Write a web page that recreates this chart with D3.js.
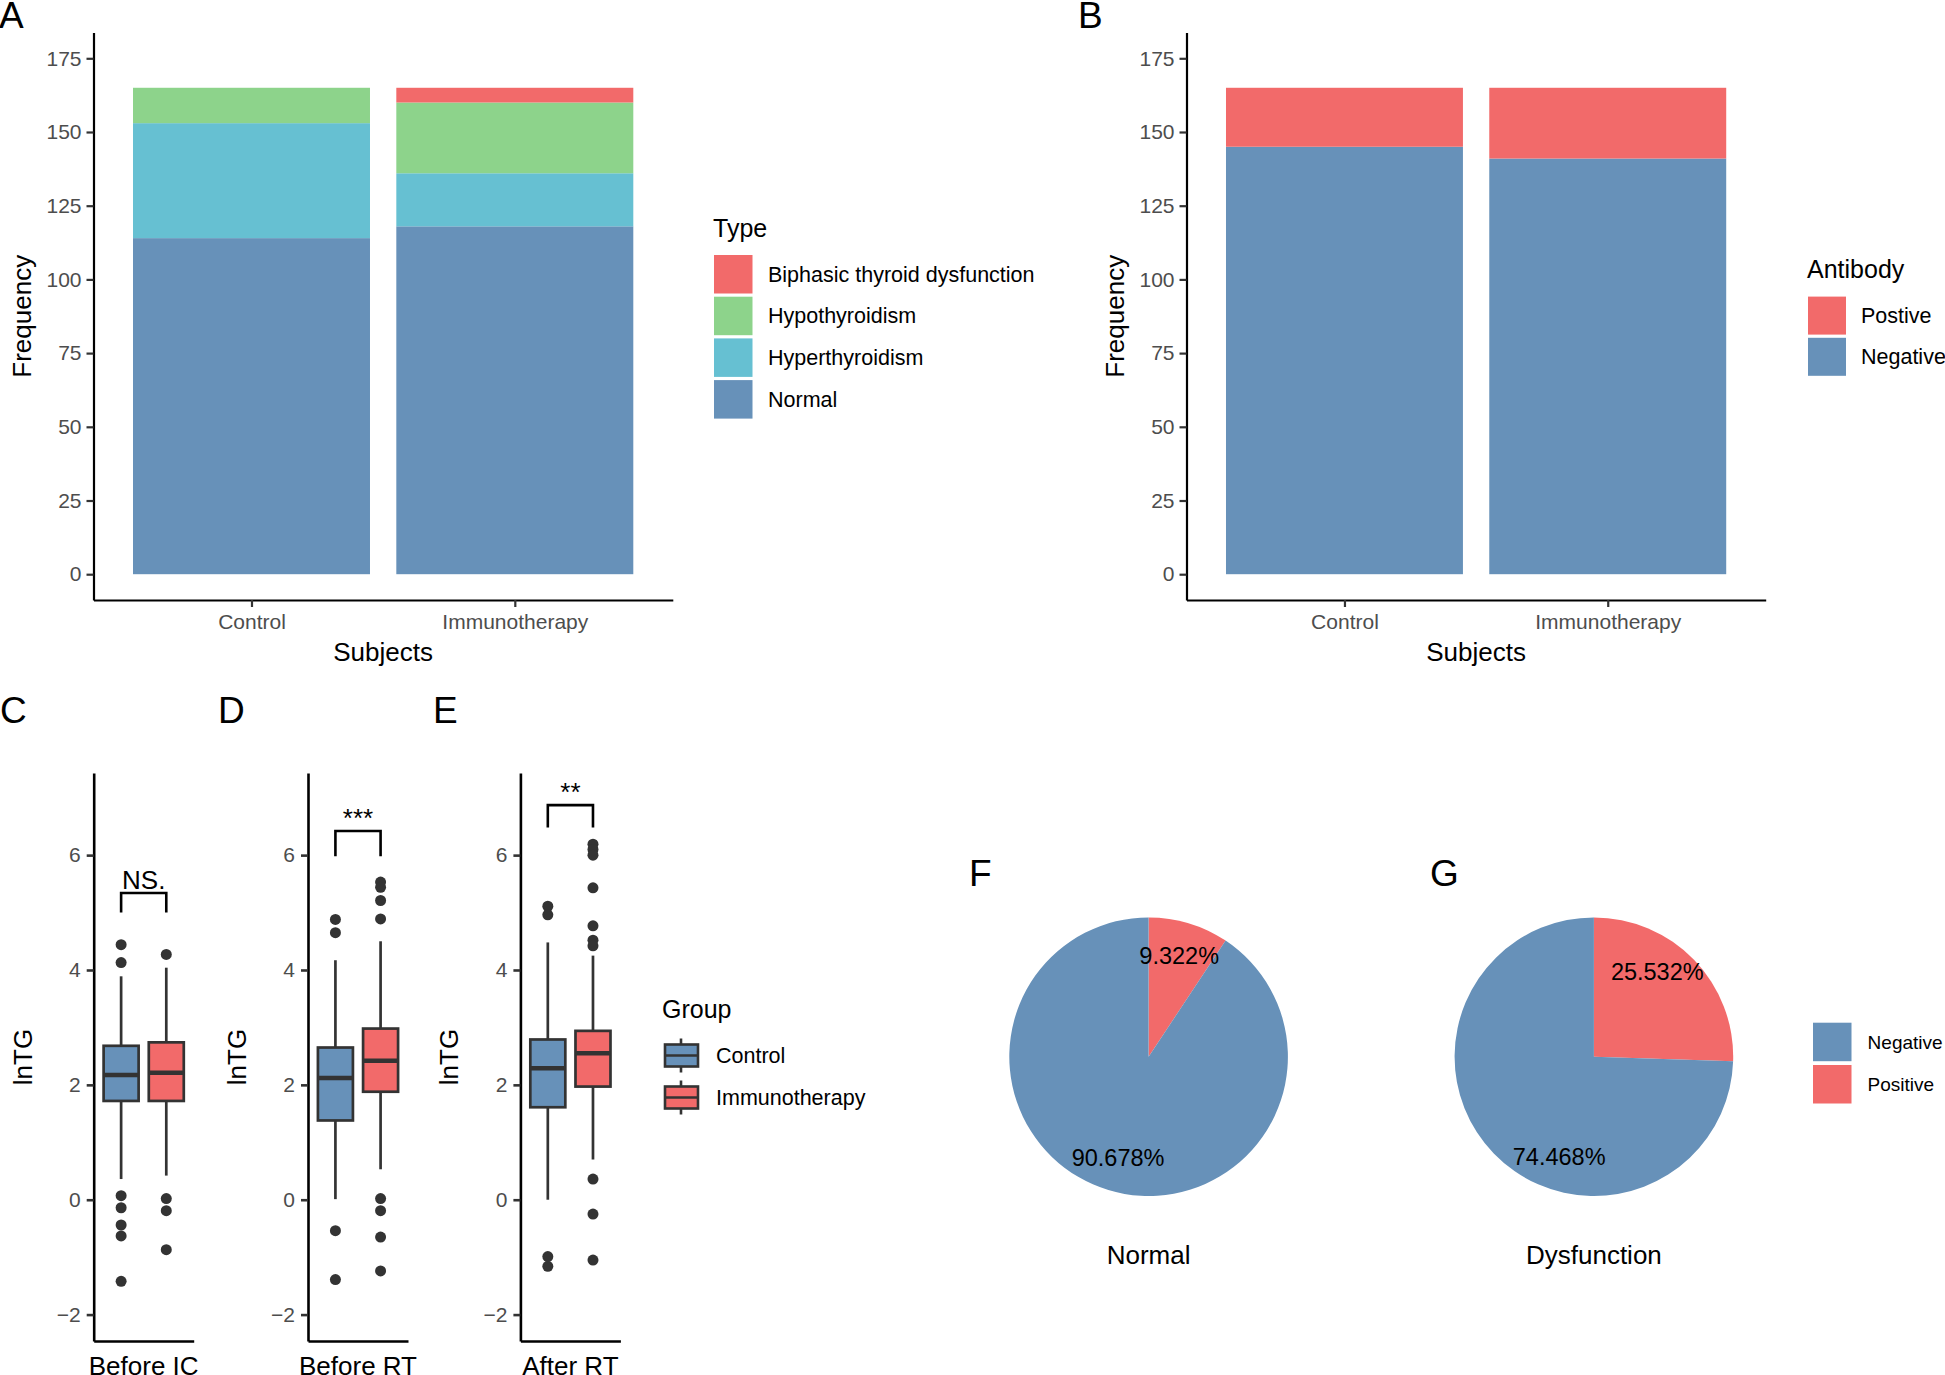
<!DOCTYPE html>
<html>
<head>
<meta charset="utf-8">
<script src="https://cdn.jsdelivr.net/npm/d3@7"></script>
<style>
  body { margin: 0; background: #fff; }
  svg { display: block; font-family: "Liberation Sans", Arial, Helvetica, sans-serif; }
</style>
</head>
<body>
<div id="chart"></div>
<script>
// ---- data ----
const subjects = ["Control", "Immunotherapy"];
const freqTicks = [0, 25, 50, 75, 100, 125, 150, 175];

// panel A, thyroid function type counts
const typeKeys = ["Normal", "Hyperthyroidism", "Hypothyroidism", "Biphasic thyroid dysfunction"];
const typeNormal = [114, 118];
const typeHyper = [39, 18];
const typeHypo = [12, 24];
const typeBiphasic = [0, 5];

// panel B, antibody counts
const antibodyKeys = ["Negative", "Postive"];
const antibodyNeg = [145, 141];
const antibodyPos = [20, 24];

// panels C-E, lnTG boxplots: [lower whisker, Q1, median, Q3, upper whisker]
const timepoints = ["Before IC", "Before RT", "After RT"];
const groups = ["Control", "Immunotherapy"];
const statsBeforeIC = [[0.36, 1.72, 2.17, 2.68, 3.89], [0.42, 1.72, 2.21, 2.74, 4.04]];
const statsBeforeRT = [[0.01, 1.38, 2.12, 2.65, 4.17], [0.53, 1.88, 2.42, 2.98, 4.50]];
const statsAfterRT  = [[0.0, 1.61, 2.29, 2.79, 4.48], [0.70, 1.97, 2.55, 2.94, 4.25]];
const outBeforeIC = [[4.44, 4.13, 0.07, -0.14, -0.44, -0.63, -1.42], [4.27, 0.02, -0.19, -0.87]];
const outBeforeRT = [[4.88, 4.65, -0.54, -1.39], [5.53, 5.44, 5.21, 4.89, 0.02, -0.19, -0.65, -1.24]];
const outAfterRT  = [[5.11, 4.96, -0.99, -1.16], [6.19, 6.10, 6.00, 5.43, 4.77, 4.52, 4.42, 0.36, -0.25, -1.05]];
const signifLabels = ["NS.", "***", "**"];
const bracketLow = [5.0, 5.98, 6.48];
const bracketHigh = [5.34, 6.42, 6.87];
const lnTicks = [-2, 0, 2, 4, 6];

// panels F-G, antibody in immunotherapy patients by thyroid status
const pieGroups = ["Normal", "Dysfunction"];
const pieNegative = [107, 35];
const piePositive = [11, 12];

// ---- styles ----
const RED = "#F26A6A", GREEN = "#8DD38B", CYAN = "#66C0D2", BLUE = "#6791B9";
const TICK_GREY = "#4D4D4D", DARK = "#333333";
const width = 1945, height = 1375;

const svg = d3.select("#chart").append("svg")
  .attr("width", width)
  .attr("height", height)
  .attr("viewBox", `0 0 ${width} ${height}`);

function styleAxis(g, lw) {
  g.select(".domain").attr("stroke", "#000").attr("stroke-width", lw);
  g.selectAll(".tick line").attr("stroke", DARK).attr("stroke-width", lw);
  g.selectAll(".tick text").attr("fill", TICK_GREY).attr("font-size", 21);
}

function panelLetter(txt, x, y) {
  svg.append("text").attr("x", x).attr("y", y).attr("font-size", 37).text(txt);
}

function drawLegend(o) {
  const g = svg.append("g");
  if (o.title) {
    g.append("text").attr("x", o.x).attr("y", o.titleY).attr("font-size", 25).text(o.title);
  }
  o.items.forEach((it, i) => {
    const top = o.keyTop + i * o.step;
    g.append("rect").attr("x", o.x + 1).attr("y", top)
      .attr("width", o.keySize).attr("height", o.keySize).attr("fill", o.colors[i]);
    g.append("text").attr("x", o.labelX).attr("y", top + o.keySize / 2)
      .attr("dy", "0.35em").attr("font-size", o.fontSize).text(it);
  });
}

// ---- stacked bar panels ----
function stackedBars(o) {
  const g = svg.append("g");
  const x = d3.scaleLinear().domain([0.4, 2.6]).range([o.left, o.right]);
  const y = d3.scaleLinear().domain([-8.75, 183.75]).range([600, 32.5]);
  const stack = d3.stack().keys(o.keys)(o.rows);
  stack.forEach((layer, li) => {
    g.append("g").selectAll("rect").data(layer).join("rect")
      .attr("x", (d, i) => x(i + 1 - 0.45))
      .attr("width", x(1.45) - x(0.55))
      .attr("y", d => y(d[1]))
      .attr("height", d => y(d[0]) - y(d[1]))
      .attr("fill", o.colors[li]);
  });
  const ya = g.append("g").attr("transform", `translate(${o.left},0)`)
    .call(d3.axisLeft(y).tickValues(freqTicks).tickSize(7).tickSizeOuter(0).tickPadding(5));
  styleAxis(ya, 2.2);
  const xa = g.append("g").attr("transform", `translate(0,600)`)
    .call(d3.axisBottom(x).tickValues([1, 2]).tickFormat((d, i) => subjects[i])
      .tickSize(7).tickSizeOuter(0).tickPadding(7));
  styleAxis(xa, 2.2);
  g.append("text").attr("transform", `translate(${o.left - 63},${(600 + 32.5) / 2}) rotate(-90)`)
    .attr("text-anchor", "middle").attr("font-size", 26).text("Frequency");
  g.append("text").attr("x", (o.left + o.right) / 2).attr("y", 661)
    .attr("text-anchor", "middle").attr("font-size", 26).text("Subjects");
}

stackedBars({
  left: 93.5, right: 672.8,
  keys: typeKeys,
  colors: [BLUE, CYAN, GREEN, RED],
  rows: subjects.map((s, i) => ({
    subject: s,
    "Normal": typeNormal[i],
    "Hyperthyroidism": typeHyper[i],
    "Hypothyroidism": typeHypo[i],
    "Biphasic thyroid dysfunction": typeBiphasic[i]
  }))
});
drawLegend({
  title: "Type", x: 713, titleY: 237, keyTop: 255, keySize: 38.5, step: 41.7,
  labelX: 768, fontSize: 21.5,
  items: typeKeys.slice().reverse(), colors: [RED, GREEN, CYAN, BLUE]
});
panelLetter("A", -1, 28);

stackedBars({
  left: 1186.5, right: 1765.7,
  keys: antibodyKeys,
  colors: [BLUE, RED],
  rows: subjects.map((s, i) => ({ subject: s, "Negative": antibodyNeg[i], "Postive": antibodyPos[i] }))
});
drawLegend({
  title: "Antibody", x: 1807, titleY: 277.5, keyTop: 296.6, keySize: 38, step: 41.2,
  labelX: 1861, fontSize: 21.5,
  items: antibodyKeys.slice().reverse(), colors: [RED, BLUE]
});
panelLetter("B", 1078, 28);

// ---- boxplot panels ----
const boxStats = [statsBeforeIC, statsBeforeRT, statsAfterRT];
const boxOut = [outBeforeIC, outBeforeRT, outAfterRT];
const boxLefts = [93.7, 308, 520.4];
const boxLetters = ["C", "D", "E"];
const boxLetterX = [0, 218, 433];
const yBox = d3.scaleLinear().domain([-2.46, 7.43]).range([1341, 773]);
const boxColors = [BLUE, RED];

timepoints.forEach((tp, p) => {
  const left = boxLefts[p], right = left + 100;
  const x = d3.scaleLinear().domain([0.4, 1.6]).range([left, right]);
  const g = svg.append("g");
  const offs = [-0.271, 0.271], bw = 0.42;

  groups.forEach((grp, k) => {
    const s = boxStats[p][k];
    const cx = x(1 + offs[k]);
    const gg = g.append("g");
    gg.append("line").attr("x1", cx).attr("x2", cx).attr("y1", yBox(s[0])).attr("y2", yBox(s[1]))
      .attr("stroke", DARK).attr("stroke-width", 2.7);
    gg.append("line").attr("x1", cx).attr("x2", cx).attr("y1", yBox(s[3])).attr("y2", yBox(s[4]))
      .attr("stroke", DARK).attr("stroke-width", 2.7);
    gg.append("rect")
      .attr("x", x(1 + offs[k] - bw / 2)).attr("width", x(1 + bw) - x(1))
      .attr("y", yBox(s[3])).attr("height", yBox(s[1]) - yBox(s[3]))
      .attr("fill", boxColors[k]).attr("stroke", DARK).attr("stroke-width", 2.7);
    gg.append("line")
      .attr("x1", x(1 + offs[k] - bw / 2)).attr("x2", x(1 + offs[k] + bw / 2))
      .attr("y1", yBox(s[2])).attr("y2", yBox(s[2]))
      .attr("stroke", DARK).attr("stroke-width", 4.5);
    gg.selectAll("circle").data(boxOut[p][k]).join("circle")
      .attr("cx", cx).attr("cy", d => yBox(d)).attr("r", 5.5).attr("fill", DARK);
  });

  // significance bracket
  const bx0 = x(1 + offs[0]), bx1 = x(1 + offs[1]);
  g.append("path")
    .attr("d", d3.line()([[bx0, yBox(bracketLow[p])], [bx0, yBox(bracketHigh[p])],
      [bx1, yBox(bracketHigh[p])], [bx1, yBox(bracketLow[p])]]))
    .attr("fill", "none").attr("stroke", "#000").attr("stroke-width", 2.6);
  g.append("text").attr("x", (bx0 + bx1) / 2).attr("y", yBox(bracketHigh[p]) - 4)
    .attr("text-anchor", "middle").attr("font-size", 26).text(signifLabels[p]);

  const ya = g.append("g").attr("transform", `translate(${left},0)`)
    .call(d3.axisLeft(yBox).tickValues(lnTicks).tickSize(7).tickSizeOuter(0).tickPadding(6));
  styleAxis(ya, 2.6);
  const xa = g.append("g").attr("transform", `translate(0,1341)`)
    .call(d3.axisBottom(x).tickValues([]).tickSizeOuter(0));
  styleAxis(xa, 2.6);

  g.append("text").attr("transform", `translate(${left - 62},${(773 + 1341) / 2}) rotate(-90)`)
    .attr("text-anchor", "middle").attr("font-size", 26).text("lnTG");
  g.append("text").attr("x", (left + right) / 2).attr("y", 1375)
    .attr("text-anchor", "middle").attr("font-size", 26).text(tp);

  panelLetter(boxLetters[p], boxLetterX[p], 723);
});

// Group legend with boxplot keys
{
  const g = svg.append("g");
  g.append("text").attr("x", 662).attr("y", 1017.5).attr("font-size", 25).text("Group");
  groups.forEach((grp, k) => {
    const cy = 1055.5 + k * 42;
    g.append("line").attr("x1", 681).attr("x2", 681).attr("y1", cy - 17).attr("y2", cy + 17)
      .attr("stroke", DARK).attr("stroke-width", 2.6);
    g.append("rect").attr("x", 665).attr("y", cy - 11).attr("width", 33).attr("height", 22)
      .attr("fill", boxColors[k]).attr("stroke", DARK).attr("stroke-width", 2.6);
    g.append("line").attr("x1", 665).attr("x2", 698).attr("y1", cy).attr("y2", cy)
      .attr("stroke", DARK).attr("stroke-width", 2.6);
    g.append("text").attr("x", 716).attr("y", cy).attr("dy", "0.35em")
      .attr("font-size", 21.5).text(grp);
  });
}

// ---- pie panels ----
const pieCx = [1148.6, 1593.9], pieCy = 1056.7, pieR = 139.3;
const pieLetters = ["F", "G"], pieLetterX = [969, 1430];
// where along each slice the percentage sits (0 = slice start, 1 = slice end)
const pieLabelVjust = [0.5, 0.4];
const labelR = pieR * 0.76;
const pie = d3.pie().sort(null).value(d => d.n);
const arc = d3.arc().innerRadius(0).outerRadius(pieR);
const pct = d3.format(".3f");

pieGroups.forEach((name, i) => {
  const slices = [
    { k: "Positive", n: piePositive[i], c: RED },
    { k: "Negative", n: pieNegative[i], c: BLUE }
  ];
  const total = d3.sum(slices, d => d.n);
  const g = svg.append("g").attr("transform", `translate(${pieCx[i]},${pieCy})`);
  const arcs = pie(slices);
  g.selectAll("path").data(arcs).join("path").attr("d", arc).attr("fill", d => d.data.c);
  g.selectAll("text").data(arcs).join("text")
    .attr("transform", d => {
      const a = d.startAngle + pieLabelVjust[i] * (d.endAngle - d.startAngle);
      return `translate(${labelR * Math.sin(a)},${-labelR * Math.cos(a)})`;
    })
    .attr("text-anchor", "middle").attr("dy", "0.35em").attr("font-size", 23.5)
    .text(d => pct(d.data.n / total * 100) + "%");
  svg.append("text").attr("x", pieCx[i]).attr("y", 1264).attr("text-anchor", "middle")
    .attr("font-size", 26).text(name);
  panelLetter(pieLetters[i], pieLetterX[i], 886);
});

drawLegend({
  x: 1812, keyTop: 1022.7, keySize: 38.5, step: 42.3, labelX: 1867.6, fontSize: 19,
  items: ["Negative", "Positive"], colors: [BLUE, RED]
});
</script>
</body>
</html>
